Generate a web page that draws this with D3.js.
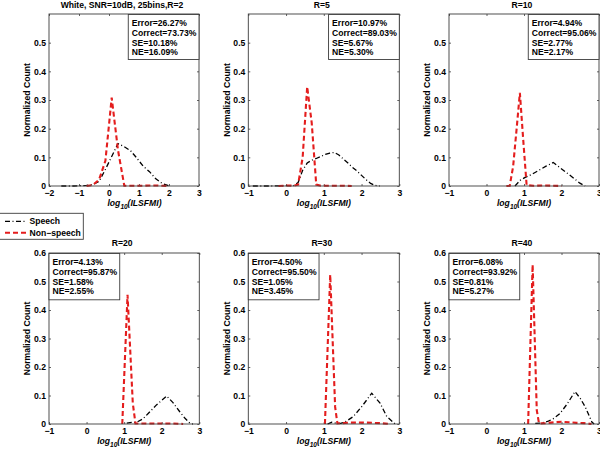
<!DOCTYPE html>
<html><head><meta charset="utf-8">
<script src="https://cdn.jsdelivr.net/npm/d3@7"></script>
<style>
html,body{margin:0;padding:0;background:#fff;}
svg{display:block;font-family:"Liberation Sans",Arial,Helvetica,sans-serif;font-weight:bold;}
</style></head>
<body><svg id="chart" width="600" height="451"></svg>
<script>
// ---------- data ----------
const panelTitles = ["White, SNR=10dB, 25bins,R=2", "R=5", "R=10", "R=20", "R=30", "R=40"];
const xTicksFirst = [-2, -1, 0, 1, 2, 3];
const xTicksOther = [-1, 0, 1, 2, 3];
const yTicksTop = [0, 0.1, 0.2, 0.3, 0.4, 0.5];
const yTicksBottom = [0, 0.1, 0.2, 0.3, 0.4, 0.5, 0.6];
const legendLabels = ["Speech", "Non\u2212speech"];

const errorPct   = ["26.27%", "10.97%", "4.94%", "4.13%", "4.50%", "6.08%"];
const correctPct = ["73.73%", "89.03%", "95.06%", "95.87%", "95.50%", "93.92%"];
const sePct      = ["10.18%", "5.67%", "2.77%", "1.58%", "1.05%", "0.81%"];
const nePct      = ["16.09%", "5.30%", "2.17%", "2.55%", "3.45%", "5.27%"];

// Speech (black dash-dot)
const speechX_R2 = [-1.59,-1.38,-1.17,-0.96,-0.75,-0.54,-0.33,-0.12,0.09,0.30,0.51,0.72,0.93,1.14,1.35,1.56,1.77,1.98];
const speechY_R2 = [0,0,0,0.001,0.002,0.005,0.016,0.058,0.103,0.148,0.137,0.123,0.097,0.069,0.05,0.025,0.009,0.001];
const speechX_R5 = [-0.88,-0.4,0.0,0.20,0.32,0.44,0.56,0.68,0.80,0.92,1.04,1.16,1.28,1.40,1.52,1.64,1.76,1.88,2.00,2.12,2.24,2.36,2.48];
const speechY_R5 = [0,0,0.001,0.001,0.012,0.055,0.08,0.09,0.096,0.103,0.11,0.115,0.117,0.108,0.094,0.08,0.065,0.052,0.037,0.022,0.009,0.002,0];
const speechX_R10 = [0.76,0.90,1.03,1.20,1.40,1.60,1.78,1.95,2.10,2.30,2.49,2.63];
const speechY_R10 = [0,0.02,0.03,0.04,0.055,0.07,0.082,0.065,0.05,0.03,0.01,0];
const speechX_R20 = [1.07,1.20,1.33,1.50,1.64,1.86,2.13,2.30,2.48,2.62,2.75,2.83];
const speechY_R20 = [0.003,0.006,0.006,0.018,0.037,0.067,0.098,0.075,0.043,0.02,0.003,0];
const speechX_R30 = [1.10,1.21,1.32,1.45,1.60,1.78,2.00,2.27,2.49,2.67,2.89];
const speechY_R30 = [0,0.006,0.003,0.002,0.01,0.026,0.06,0.108,0.073,0.026,0];
const speechX_R40 = [1.30,1.45,1.65,1.80,1.96,2.15,2.36,2.50,2.63,2.81,2.87];
const speechY_R40 = [0.002,0.003,0.01,0.02,0.037,0.07,0.114,0.09,0.061,0.007,0];

// Non-speech (red dashed)
const nonX_R2 = [-0.75,-0.54,-0.33,-0.12,0.09,0.30,0.51,0.72,0.93,1.14,1.35,1.56,1.77,1.98];
const nonY_R2 = [0,0.003,0.022,0.088,0.308,0.125,0.001,0.001,0.001,0.001,0.002,0.002,0.001,0];
const nonX_R5 = [-0.2,0.08,0.20,0.32,0.44,0.56,0.68,0.80,0.92,1.10,1.30,1.50,1.74];
const nonY_R5 = [0,0.002,0.001,0.005,0.10,0.346,0.22,0.005,0.001,0.001,0.001,0.001,0];
const nonX_R10 = [0.53,0.62,0.71,0.80,0.89,0.98,1.07,1.25,1.50,1.75,2.00];
const nonY_R10 = [0,0.001,0.068,0.195,0.325,0.16,0.003,0.001,0.002,0.001,0];
const nonX_R20 = [0.95,1.09,1.23,1.30,1.50,1.70,1.90,2.10,2.30,2.57];
const nonY_R20 = [0,0.453,0.073,0.002,0.002,0.002,0.002,0.002,0.002,0];
const nonX_R30 = [1.03,1.17,1.30,1.36,1.50,1.70,1.90,2.10,2.30,2.50,2.75];
const nonY_R30 = [0,0.524,0.06,0.002,0.003,0.005,0.005,0.005,0.004,0.003,0];
const nonX_R40 = [1.11,1.23,1.34,1.40,1.60,1.80,2.00,2.20,2.40,2.60,2.80];
const nonY_R40 = [0,0.559,0.049,0.002,0.003,0.006,0.008,0.006,0.004,0.003,0];

// ---------- layout ----------
const svg = d3.select("#chart");
const FS = 8.6;
const axisColor = "#3c3c3c";
const red = "#e41d1d";

const panels = [
  {box:[49,14,199,186],   xd:[-2,3], xt:xTicksFirst, yt:yTicksTop, sx:speechX_R2, sy:speechY_R2, nx:nonX_R2, ny:nonY_R2, statsRight:true, xlabelShift:10.5},
  {box:[248.3,14,399.3,186], xd:[-1,3], xt:xTicksOther, yt:yTicksTop, sx:speechX_R5, sy:speechY_R5, nx:nonX_R5, ny:nonY_R5, statsRight:true, xlabelShift:0},
  {box:[449,14,599,186],  xd:[-1,3], xt:xTicksOther, yt:yTicksTop, sx:speechX_R10, sy:speechY_R10, nx:nonX_R10, ny:nonY_R10, statsRight:true, xlabelShift:0},
  {box:[49,253,199.3,424], xd:[-1,3], xt:xTicksOther, yt:yTicksBottom, sx:speechX_R20, sy:speechY_R20, nx:nonX_R20, ny:nonY_R20, statsRight:false, xlabelShift:0},
  {box:[248.3,253,399.3,424], xd:[-1,3], xt:xTicksOther, yt:yTicksBottom, sx:speechX_R30, sy:speechY_R30, nx:nonX_R30, ny:nonY_R30, statsRight:false, xlabelShift:0},
  {box:[449,253,599,424], xd:[-1,3], xt:xTicksOther, yt:yTicksBottom, sx:speechX_R40, sy:speechY_R40, nx:nonX_R40, ny:nonY_R40, statsRight:false, xlabelShift:0}
];

panels.forEach((p, i) => {
  const [x0, y0, x1, y1] = p.box;
  const x = d3.scaleLinear().domain(p.xd).range([x0, x1]);
  const y = d3.scaleLinear().domain([0, 0.6]).range([y1, y0]);
  const g = svg.append("g");

  g.append("rect").attr("x", x0).attr("y", y0).attr("width", x1 - x0).attr("height", y1 - y0)
    .attr("fill", "#fff");

  // axes
  const fmt = d => d === 0 ? "0" : (Number.isInteger(d) ? String(d).replace("-", "\u2212") : String(d));
  const xAxis = g.append("g").attr("transform", `translate(0,${y1})`)
    .call(d3.axisBottom(x).tickValues(p.xt).tickSize(-2).tickPadding(4).tickFormat(fmt));
  const xAxisTop = g.append("g").attr("transform", `translate(0,${y0})`)
    .call(d3.axisTop(x).tickValues(p.xt).tickSize(-2).tickFormat(""));
  const yAxis = g.append("g").attr("transform", `translate(${x0},0)`)
    .call(d3.axisLeft(y).tickValues(p.yt).tickSize(-2).tickPadding(3).tickFormat(fmt));
  const yAxisR = g.append("g").attr("transform", `translate(${x1},0)`)
    .call(d3.axisRight(y).tickValues(p.yt).tickSize(-2).tickFormat(""));
  [xAxis, xAxisTop, yAxis, yAxisR].forEach(a => {
    a.select(".domain").remove();
    a.selectAll(".tick line").attr("stroke", axisColor).attr("stroke-width", 0.8);
    a.selectAll("text").attr("font-size", FS).attr("font-weight", "bold")
      .attr("font-family", "Liberation Sans, Arial, sans-serif").attr("fill", "#000");
  });
  xAxis.selectAll("text").attr("dy", "0.71em");

  // curves
  const line = d3.line().x(d => x(d[0])).y(d => y(d[1]));
  g.append("path").datum(p.sx.map((v, k) => [v, p.sy[k]]))
    .attr("d", line).attr("fill", "none").attr("stroke", "#000").attr("stroke-width", 1.3)
    .attr("stroke-dasharray", "5,2.5,1,2.5");
  g.append("path").datum(p.nx.map((v, k) => [v, p.ny[k]]))
    .attr("d", line).attr("fill", "none").attr("stroke", red).attr("stroke-width", 2.1)
    .attr("stroke-dasharray", "5,3");

  // frame
  g.append("rect").attr("x", x0).attr("y", y0).attr("width", x1 - x0).attr("height", y1 - y0)
    .attr("fill", "none").attr("stroke", axisColor).attr("stroke-width", 0.9);

  // title
  g.append("text").attr("x", (x0 + x1) / 2 - 2).attr("y", y0 - (i < 3 ? 6.3 : 7.5))
    .attr("text-anchor", "middle").attr("font-size", FS).text(panelTitles[i]);

  // y label
  g.append("text").attr("transform", `translate(${x0 - 18.7},${(y0 + y1) / 2}) rotate(-90)`)
    .attr("text-anchor", "middle").attr("font-size", FS).text("Normalized Count");

  // x label
  const xl = g.append("text").attr("x", (x0 + x1) / 2 + p.xlabelShift).attr("y", y1 + 19.5)
    .attr("text-anchor", "middle").attr("font-size", FS).attr("font-style", "italic");
  xl.append("tspan").text("log");
  xl.append("tspan").attr("font-size", 6.5).attr("dy", 3).text("10");
  xl.append("tspan").attr("dy", -3).text("(ILSFMI)");

  // stats box
  const lines = ["Error=" + errorPct[i], "Correct=" + correctPct[i], "SE=" + sePct[i], "NE=" + nePct[i]];
  const sg = g.append("g");
  const bx = sg.append("rect").attr("fill", "#fff").attr("stroke", axisColor).attr("stroke-width", 0.9);
  const texts = sg.selectAll("text").data(lines).join("text")
    .attr("font-size", FS).attr("y", (d, k) => y0 + 11.8 + k * 9.85).text(d => d);
  let maxW = 0;
  texts.each(function () { maxW = Math.max(maxW, this.getComputedTextLength()); });
  const bw = maxW + 6;
  const bh = i < 3 ? 45 : 46.3;
  const bLeft = p.statsRight ? x1 - bw : x0;
  bx.attr("x", bLeft).attr("y", y0 + 0.5).attr("width", bw).attr("height", bh);
  texts.attr("x", bLeft + 3.5);
});

// legend
const lg = svg.append("g");
lg.append("rect").attr("x", -1).attr("y", 213.3).attr("width", 84.3).attr("height", 26)
  .attr("fill", "#fff").attr("stroke", axisColor).attr("stroke-width", 0.9);
const legendStyles = [
  {stroke: "#000", w: 1.3, dash: "5,2.5,1,2.5", yy: 221.3},
  {stroke: red, w: 2.1, dash: "5,3", yy: 232.7}
];
legendLabels.forEach((lab, k) => {
  const s = legendStyles[k];
  lg.append("line").attr("x1", 5).attr("x2", 27).attr("y1", s.yy).attr("y2", s.yy)
    .attr("stroke", s.stroke).attr("stroke-width", s.w).attr("stroke-dasharray", s.dash);
  lg.append("text").attr("x", 29.5).attr("y", s.yy + 3.1).attr("font-size", FS).text(lab);
});
</script>
</body></html>
